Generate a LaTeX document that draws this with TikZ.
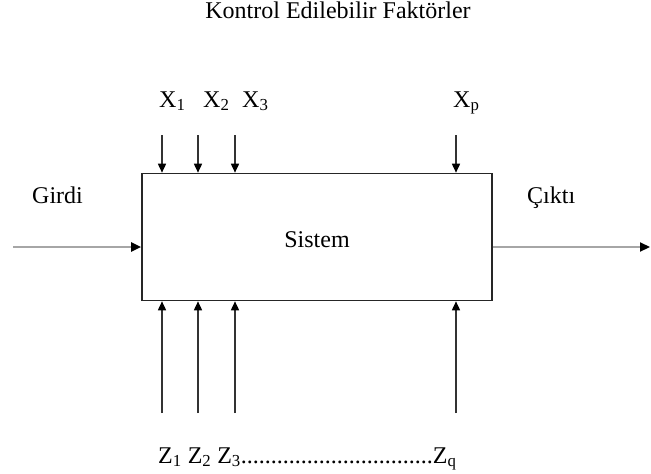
\documentclass[tikz,border=0pt]{standalone}
\usepackage{fontspec}
\setmainfont{Liberation Serif}
\usetikzlibrary{arrows.meta}
\begin{document}
\begin{tikzpicture}[x=1pt,y=-1pt,
 lbl/.style={font=\fontsize{24}{27}\selectfont, inner sep=0pt},
 arr/.style={line width=1.6pt, draw=black!80, -{Triangle[length=9pt,width=8pt,color=black]}},
 garr/.style={line width=2.2pt, draw=black!35, -{Triangle[length=10pt,width=9pt,color=black]}}]
\useasboundingbox (0,0) rectangle (651,474);
\fill[white] (0,0) rectangle (651,474);
\node[draw=black!85, line width=1.6pt, minimum width=350pt, minimum height=127pt, inner sep=0pt] (sys) at (317,237) {};
\node[lbl, anchor=base] (sistem) at (317,247) {Sistem};
\node[lbl, anchor=base] (title) at (338,18) {Kontrol Edilebilir Faktörler};
\node[lbl, anchor=base west] (girdi) at (32,203) {Girdi};
\node[lbl, anchor=base west] (cikti) at (527,203) {Çıktı};
\node[lbl, anchor=base west] (x1) at (159,107) {X\textsubscript{1}};
\node[lbl, anchor=base west] (x2) at (203,107) {X\textsubscript{2}};
\node[lbl, anchor=base west] (x3) at (242,107) {X\textsubscript{3}};
\node[lbl, anchor=base west] (xp) at (453,107) {X\textsubscript{p}};
\node[lbl, anchor=base west] (zs) at (158,463) {Z\textsubscript{1} Z\textsubscript{2} Z\textsubscript{3}................................Z\textsubscript{q}};
\foreach \n/\x in {1/162,2/198,3/235,p/456}{
  \coordinate (xs\n) at (\x,135);
  \draw[arr] (xs\n) -- (xs\n |- sys.north);
  \coordinate (zs\n) at (\x,413);
  \draw[arr] (zs\n) -- (zs\n |- sys.south);
}
\coordinate (in) at (13,247);
\coordinate (out) at (650,247);
\draw[garr] (in) -- (in -| sys.west);
\draw[garr] (sys.east |- out) -- (out);
\end{tikzpicture}
\end{document}
